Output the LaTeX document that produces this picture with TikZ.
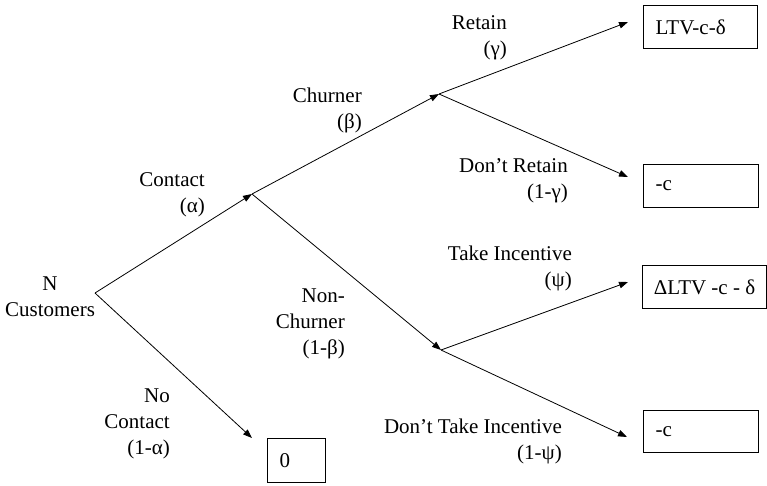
\documentclass[tikz,border=0pt]{standalone}
\usepackage{fontspec}
\setmainfont{Liberation Serif}
\usetikzlibrary{arrows.meta}
\begin{document}
\begin{tikzpicture}[x=1pt,y=-1pt,
  font=\fontsize{21}{26}\selectfont,
  conn/.style={line width=0.8pt, -{Triangle[length=9pt,width=6.5pt]}},
  lbl/.style={inner sep=0pt, align=right, anchor=east},
  box/.style={draw, line width=1pt, anchor=north west, inner xsep=12pt, inner ysep=0pt, align=left}]
\useasboundingbox (0,0) rectangle (767,485);

% branching points
\coordinate (root) at (95,293);
\coordinate (cv) at (252,194);
\coordinate (chv) at (439,94);
\coordinate (ncv) at (441,350);
% arrow tips before the outcome boxes
\coordinate (t1) at (628,22);
\coordinate (t2) at (628,177);
\coordinate (t3) at (628,282);
\coordinate (t4) at (627,437);
\coordinate (t0) at (252,438);

% outcome boxes
\node[box, text width=90pt, minimum height=43pt] (b1) at (643,5) {LTV-c-δ};
\node[box, text width=91pt, minimum height=43pt] (b2) at (643,164) {-c};
\node[draw, line width=1pt, anchor=north west, inner xsep=6pt, inner ysep=0pt, minimum width=124pt, minimum height=43pt] (b3) at (642,265) {ΔLTV -c - δ};
\node[box, text width=91pt, minimum height=42pt] (b4) at (643,410) {-c};
\node[box, text width=34pt, minimum height=44pt] (b0) at (267,438) {0};

% start
\node[inner sep=0pt, align=center] (start) at (50,297) {N\\Customers};

% connectors
\draw[conn] (root) -- (cv);
\draw[conn] (root) -- (t0);
\draw[conn] (cv) -- (chv);
\draw[conn] (cv) -- (ncv);
\draw[conn] (chv) -- (t1);
\draw[conn] (chv) -- (t2);
\draw[conn] (ncv) -- (t3);
\draw[conn] (ncv) -- (t4);

% labels
\node[lbl] (lc) at (205,195) {Contact\hspace{5pt}\\(α)};
\node[lbl] (lnc) at (170,424) {No\\Contact\\(1-α)};
\node[lbl] (lch) at (362,110) {Churner\\(β)};
\node[lbl] (lnch) at (345,324) {Non-\\Churner\\(1-β)\hspace{5pt}};
\node[lbl] (lr) at (507,38) {Retain\\(γ)};
\node[lbl] (ldr) at (568,181) {Don’t Retain\\(1-γ)\hspace{6pt}};
\node[lbl] (lti) at (572,268) {Take Incentive\\(ψ)\hspace{10pt}};
\node[lbl] (ldti) at (562,441) {Don’t Take Incentive\\(1-ψ)\hspace{3pt}};
\end{tikzpicture}
\end{document}
